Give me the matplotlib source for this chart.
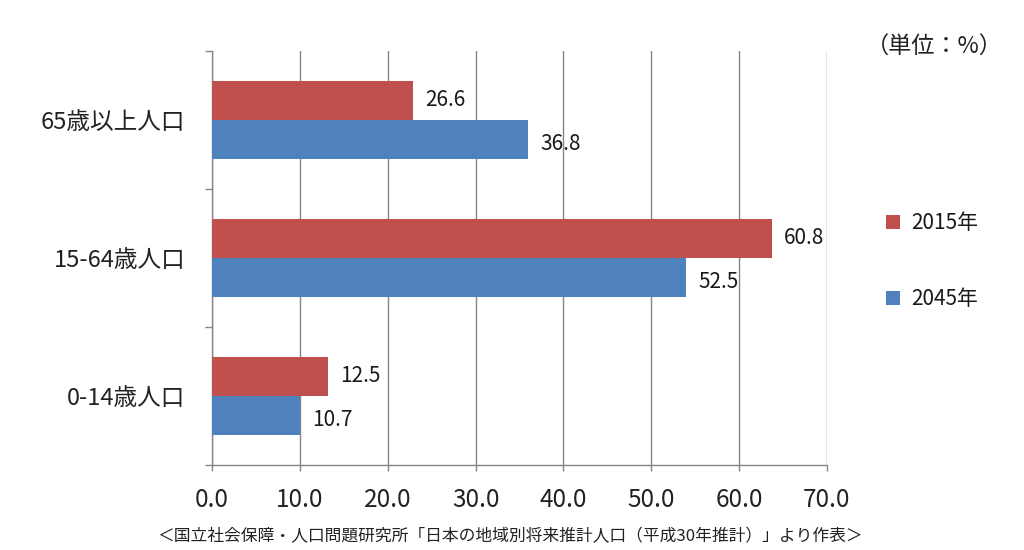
import matplotlib
matplotlib.use("Agg")
import matplotlib.pyplot as plt
import numpy as np

# ---- data ----
categories = ["0-14歳人口", "15-64歳人口", "65歳以上人口"]
series_names = ["2015年", "2045年"]
bar_2015 = [13.2, 63.7, 22.9]     # bar lengths as drawn
bar_2045 = [10.0, 54.0, 36.0]
label_2015 = [12.5, 60.8, 26.6]   # printed data labels
label_2045 = [10.7, 52.5, 36.8]
x_ticks = [0, 10, 20, 30, 40, 50, 60, 70]
unit_text = "（単位：%）"
source_text = "＜国立社会保障・人口問題研究所「日本の地域別将来推計人口（平成30年推計）」より作表＞"

RED = "#C0504D"
BLUE = "#4F81BD"
GRID = "#858585"
JP = ["Noto Sans CJK JP", "DejaVu Sans"]
NARROW = ["Liberation Sans Narrow", "DejaVu Sans Condensed", "Noto Sans CJK JP", "DejaVu Sans"]

plt.rcParams["font.family"] = JP

fig = plt.figure(figsize=(10.24, 5.5), dpi=100)
ax = fig.add_axes([212 / 1024, 1 - 465 / 550, (827 - 212) / 1024, (465 - 51) / 550])

y = np.arange(len(categories))
h = 0.283
b1 = ax.barh(y + h / 2, bar_2015, height=h, color=RED, label=series_names[0], zorder=3)
b2 = ax.barh(y - h / 2, bar_2045, height=h, color=BLUE, label=series_names[1], zorder=3)

for bars, labs, dy in ((b1, label_2015, 0), (b2, label_2045, -3)):
    for rect, lab in zip(bars, labs):
        ax.annotate(f"{lab:.1f}", xy=(rect.get_width(), rect.get_y() + rect.get_height() / 2),
                    xytext=(9, dy), textcoords="offset points", ha="left", va="center",
                    fontsize=15, family=NARROW, color="#1a1a1a", zorder=4)

ax.set_xlim(0, 70)
ax.set_ylim(-0.5, len(categories) - 0.5)
ax.set_xticks(x_ticks)
ax.set_xticklabels([f"{v:.1f}" for v in x_ticks], fontsize=17.5, color="#222222")
ax.set_yticks(y)
ax.set_yticklabels(categories, fontsize=17, color="#222222")
ax.set_yticks(np.arange(-0.5, len(categories), 1.0), minor=True)
ax.tick_params(axis="y", which="major", length=0, pad=19)
ax.tick_params(axis="y", which="minor", length=5, width=1, color=GRID, direction="out")
ax.tick_params(axis="x", which="major", length=4, width=1, color=GRID, direction="out", pad=12)

ax.xaxis.grid(True, color=GRID, linewidth=1)
ax.set_axisbelow(True)
for s in ("top", "right"):
    ax.spines[s].set_visible(False)
for s in ("left", "bottom"):
    ax.spines[s].set_color(GRID)
    ax.spines[s].set_linewidth(1)

leg = ax.legend(handles=[b1, b2], loc="center left", bbox_to_anchor=(886 / 1024, 1 - 261 / 550),
                bbox_transform=fig.transFigure, frameon=False, borderpad=0, borderaxespad=0,
                handlelength=0.68, handleheight=0.65, handletextpad=0.55, labelspacing=2.6,
                prop={"family": NARROW, "size": 15})
for t in leg.get_texts():
    t.set_color("#1a1a1a")

fig.text(934 / 1024, 1 - 47 / 550, unit_text, ha="center", va="center", fontsize=16.7, color="#222222")
fig.text(510 / 1024, 1 - 537 / 550, source_text, ha="center", va="center", fontsize=12.1, color="#222222")

fig.savefig("out.png", dpi=100, facecolor="white")
